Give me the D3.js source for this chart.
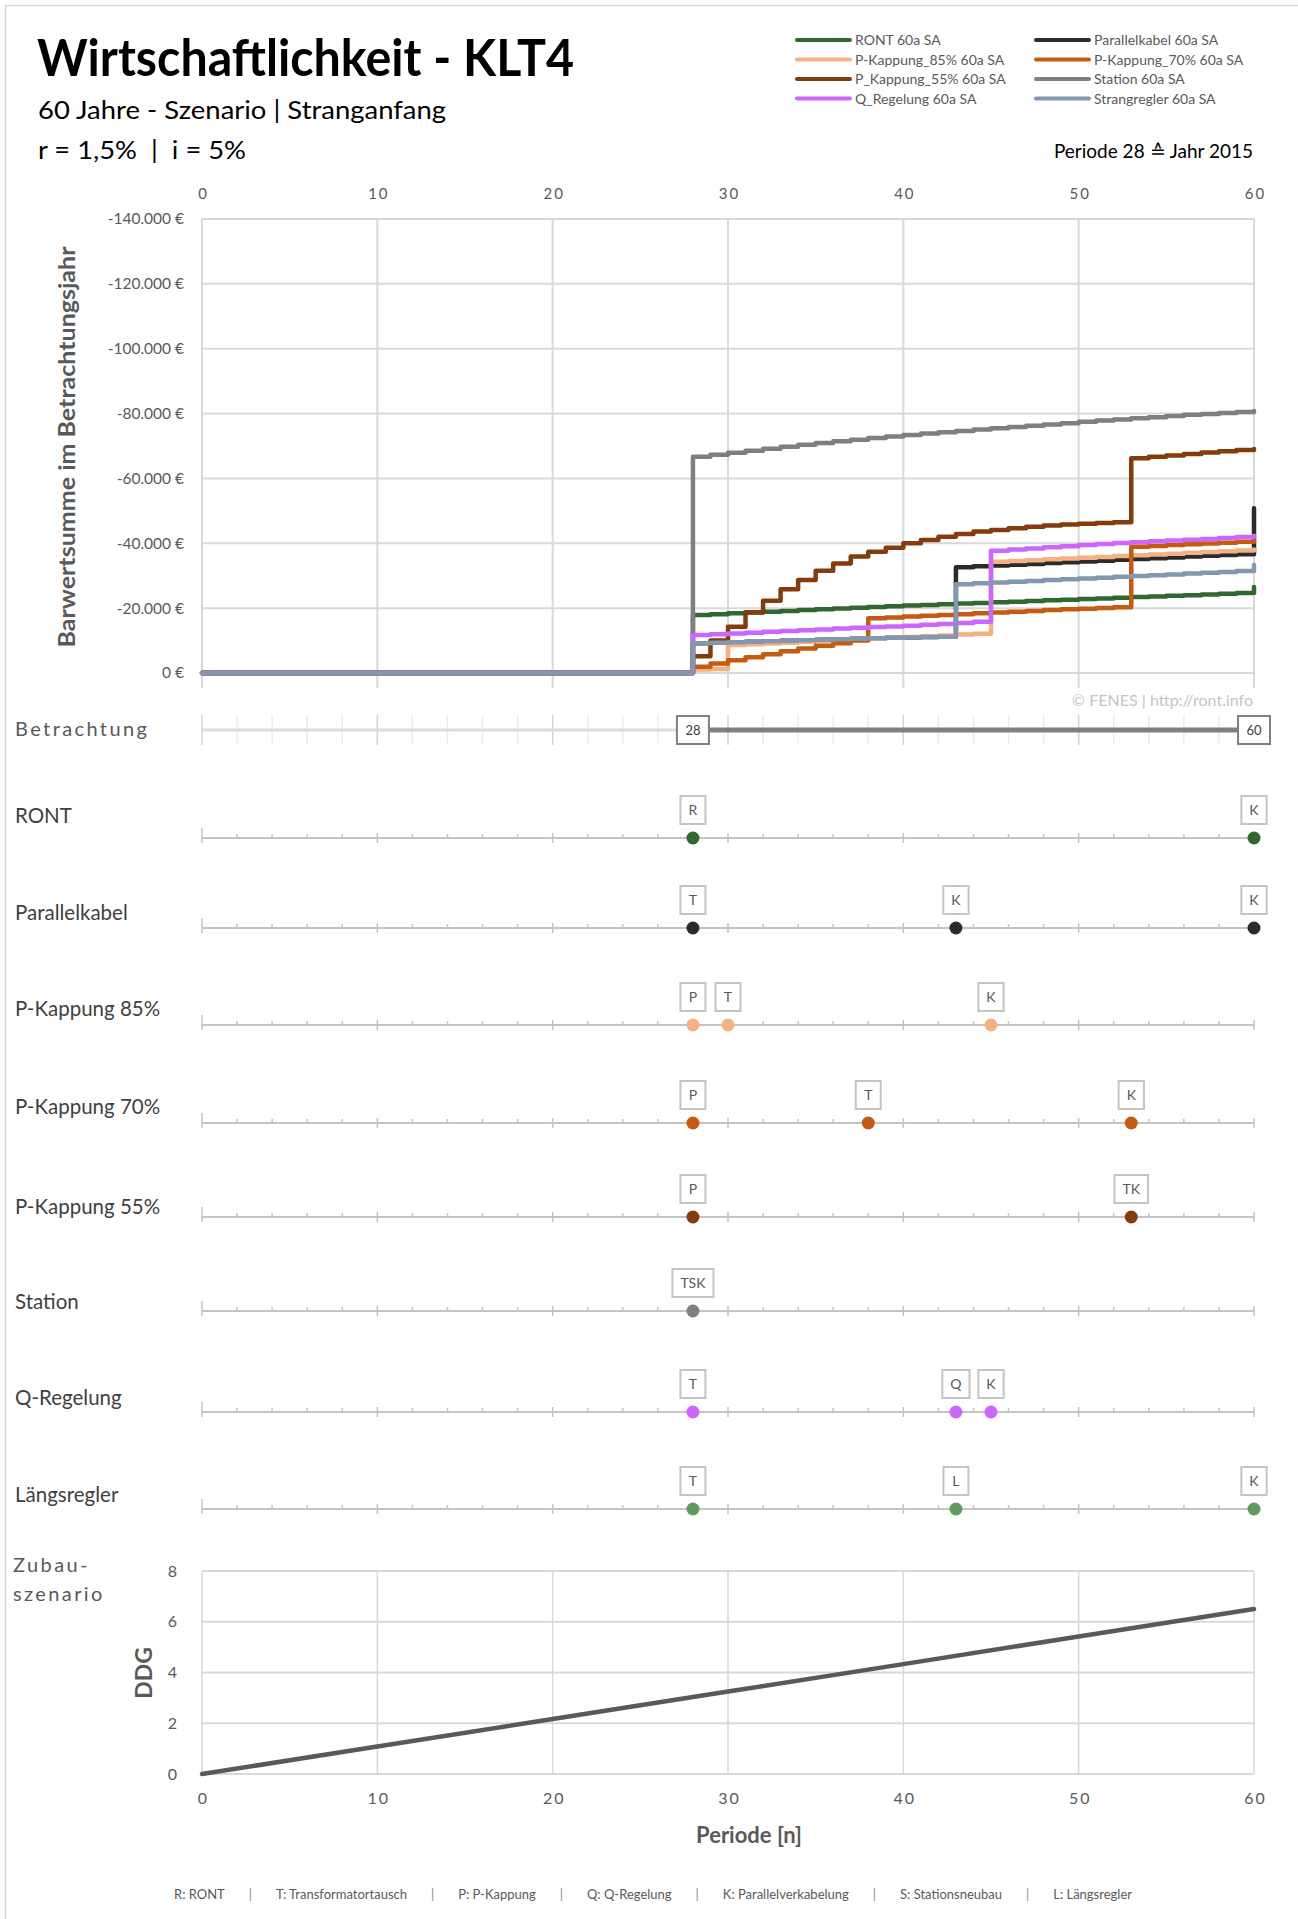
<!DOCTYPE html>
<html><head><meta charset="utf-8">
<script src="https://cdn.jsdelivr.net/npm/d3@7"></script>
<style>
body{margin:0;background:#fff;}
svg{display:block;font-family:Lato,"Open Sans",sans-serif;}
</style>
</head><body>
<svg id="c" width="1298" height="1919"></svg>
<script>
// ---------------- DATA ----------------
const periods = d3.range(0, 61);
const seriesNames = ["RONT 60a SA","Parallelkabel 60a SA","P-Kappung_85% 60a SA","P-Kappung_70% 60a SA","P_Kappung_55% 60a SA","Station 60a SA","Q_Regelung 60a SA","Strangregler 60a SA"];
const seriesColors = ["#31682f","#2b2b2b","#f4b183","#c55a11","#843c0c","#7f7f7f","#cc66ff","#8497b0"];

const ront = [0,0,0,0,0,0,0,0,0,0,0,0,0,0,0,0,0,0,0,0,0,0,0,0,0,0,0,0,
 -17900,-18150,-18400,-18650,-18900,-19150,-19400,-19650,-19900,-20100,-20350,-20550,-20800,-21000,-21200,-21400,-21600,-21800,-22000,-22200,-22400,-22600,-22800,-23000,-23200,-23400,-23600,-23800,-24000,-24200,-24450,-24700,-26500];
const parallelkabel = [0,0,0,0,0,0,0,0,0,0,0,0,0,0,0,0,0,0,0,0,0,0,0,0,0,0,0,0,
 -9200,-9350,-9500,-9650,-9800,-9950,-10100,-10250,-10400,-10550,-10700,-10850,-10950,-11100,-11200,
 -32600,-32900,-33150,-33400,-33650,-33900,-34150,-34400,-34650,-34900,-35150,-35400,-35650,-35900,-36150,-36400,-36650,-50800];
const pKappung85 = [0,0,0,0,0,0,0,0,0,0,0,0,0,0,0,0,0,0,0,0,0,0,0,0,0,0,0,0,
 -1100,-1200,-8600,-8850,-9100,-9350,-9600,-9850,-10100,-10350,-10600,-10850,-11100,-11350,-11600,-11850,-12100,
 -34300,-34550,-34800,-35050,-35300,-35550,-35800,-36050,-36300,-36550,-36800,-37050,-37300,-37550,-37800,-38100];
const pKappung70 = [0,0,0,0,0,0,0,0,0,0,0,0,0,0,0,0,0,0,0,0,0,0,0,0,0,0,0,0,
 -1900,-2900,-3900,-4850,-5800,-6700,-7550,-8400,-9200,-10000,
 -16900,-17150,-17400,-17650,-17900,-18150,-18400,-18650,-18900,-19150,-19400,-19650,-19850,-20050,-20300,
 -38900,-39200,-39450,-39700,-39950,-40200,-40450,-40800];
const pKappung55 = [0,0,0,0,0,0,0,0,0,0,0,0,0,0,0,0,0,0,0,0,0,0,0,0,0,0,0,0,
 -5200,-10000,-14300,-18700,-22300,-25800,-28700,-31500,-33800,-35900,-37400,-38600,-40000,-41000,-42000,-42900,-43600,-44100,-44600,-45100,-45500,-45800,-46000,-46250,-46500,
 -66200,-66650,-67100,-67550,-68000,-68400,-68800,-69100];
const station = [0,0,0,0,0,0,0,0,0,0,0,0,0,0,0,0,0,0,0,0,0,0,0,0,0,0,0,0,
 -66700,-67300,-67900,-68550,-69150,-69750,-70350,-70900,-71450,-71950,-72450,-72950,-73400,-73850,-74250,-74650,-75050,-75450,-75850,-76250,-76650,-77050,-77450,-77850,-78200,-78550,-78900,-79250,-79600,-79900,-80200,-80500,-80800];
const qRegelung = [0,0,0,0,0,0,0,0,0,0,0,0,0,0,0,0,0,0,0,0,0,0,0,0,0,0,0,0,
 -11700,-11950,-12200,-12450,-12700,-12950,-13200,-13450,-13700,-13950,-14150,-14350,-14600,-14850,-15100,-15400,-15800,
 -37700,-38050,-38400,-38750,-39100,-39450,-39750,-40050,-40350,-40600,-40850,-41100,-41350,-41650,-41950,-42300];
const strangregler = [0,0,0,0,0,0,0,0,0,0,0,0,0,0,0,0,0,0,0,0,0,0,0,0,0,0,0,0,
 -9200,-9350,-9500,-9650,-9800,-9950,-10100,-10250,-10400,-10550,-10700,-10850,-10950,-11100,-11200,
 -27400,-27650,-27900,-28150,-28400,-28650,-28900,-29150,-29400,-29650,-29900,-30150,-30400,-30650,-30900,-31150,-31450,-33300];
const seriesValues = [ront, parallelkabel, pKappung85, pKappung70, pKappung55, station, qRegelung, strangregler];

const xTicks = [0,10,20,30,40,50,60];
const yTicks = [0,-20000,-40000,-60000,-80000,-100000,-120000,-140000];

const betrachtungStart = 28, betrachtungEnd = 60;

const rowNames = ["RONT","Parallelkabel","P-Kappung 85%","P-Kappung 70%","P-Kappung 55%","Station","Q-Regelung","Längsregler"];
const rowColors = ["#31682f","#2b2b2b","#f4b183","#c55a11","#843c0c","#7f7f7f","#cc66ff","#5f9a5f"];
const rowEventPeriods = [[28,60],[28,43,60],[28,30,45],[28,38,53],[28,53],[28],[28,43,45],[28,43,60]];
const rowEventLabels  = [["R","K"],["T","K","K"],["P","T","K"],["P","T","K"],["P","TK"],["TSK"],["T","Q","K"],["T","L","K"]];

const ddgPeriods = [0,10,20,30,40,50,60];
const ddgValues  = [0,1.08,2.17,3.25,4.33,5.42,6.5];
const ddgTicks = [0,2,4,6,8];

const footerItems = ["R: RONT","T: Transformatortausch","P: P-Kappung","Q: Q-Regelung","K: Parallelverkabelung","S: Stationsneubau","L: Längsregler"];

// ---------------- LAYOUT ----------------
const W = 1298, H = 1919;
const X0 = 202, X1 = 1254;
const mainTop = 219, mainBottom = 673;
const rowAxisY = [838, 928, 1025, 1123, 1217, 1311, 1412, 1509];
const rowLabelY = [823, 920, 1016, 1114, 1214, 1309, 1405, 1502];
const betrY = 730;
const ddgTop = 1571, ddgBottom = 1774;
const grid = "#d9d9d9", txt = "#595959";

const svg = d3.select("#c");
svg.append("rect").attr("width", W).attr("height", H).attr("fill", "#fff");
svg.append("rect").attr("x", 5.5).attr("y", 5.5).attr("width", W + 20).attr("height", H + 20)
  .attr("fill", "none").attr("stroke", "#d9d9d9").attr("stroke-width", 1.5);

// ---------------- HEADER ----------------
svg.append("text").attr("x", 37).attr("y", 76).attr("font-size", 51).attr("font-weight", 700)
  .attr("fill", "#000").attr("textLength", 537).attr("lengthAdjust", "spacingAndGlyphs")
  .text("Wirtschaftlichkeit - KLT4");
svg.append("text").attr("x", 38).attr("y", 119).attr("font-size", 25).attr("fill", "#000")
  .attr("textLength", 408).attr("lengthAdjust", "spacingAndGlyphs")
  .text("60 Jahre - Szenario | Stranganfang");
svg.append("text").attr("x", 38).attr("y", 159).attr("font-size", 25).attr("fill", "#000")
  .style("white-space", "pre").attr("textLength", 208).attr("lengthAdjust", "spacingAndGlyphs")
  .text("r = 1,5%  |  i = 5%");
svg.append("text").attr("x", 1253).attr("y", 158).attr("font-size", 19).attr("fill", "#000")
  .attr("text-anchor", "end").text("Periode 28 \u2259 Jahr 2015");

// legend
const leg = svg.append("g");
seriesNames.forEach((n, i) => {
  const col = i % 2, row = Math.floor(i / 2);
  const lx = col === 0 ? 797 : 1036;
  const ly = [40, 59.5, 79, 98.5][row];
  leg.append("line").attr("x1", lx).attr("x2", lx + 53).attr("y1", ly).attr("y2", ly)
    .attr("stroke", seriesColors[i]).attr("stroke-width", 4).attr("stroke-linecap", "round");
  leg.append("text").attr("x", lx + 58).attr("y", ly + 5).attr("font-size", 14).attr("fill", txt).text(n);
});

// ---------------- MAIN CHART ----------------
const x = d3.scaleLinear().domain([0, 60]).range([X0, X1]);
const y = d3.scaleLinear().domain([0, -140000]).range([mainBottom, mainTop]);
const loc = d3.formatLocale({decimal: ",", thousands: ".", grouping: [3], currency: ["", " €"], minus: "-"});
const fmt = loc.format(",.0f");

const gm = svg.append("g");
gm.selectAll(".hg").data(yTicks).join("line")
  .attr("x1", X0).attr("x2", X1).attr("y1", d => y(d)).attr("y2", d => y(d))
  .attr("stroke", grid).attr("stroke-width", 2);
gm.selectAll(".vg").data(xTicks).join("line")
  .attr("x1", d => x(d)).attr("x2", d => x(d)).attr("y1", mainTop).attr("y2", mainBottom + 15)
  .attr("stroke", grid).attr("stroke-width", 2);

const topAxis = gm.append("g").attr("transform", `translate(0,199)`)
  .call(d3.axisTop(x).tickValues(xTicks).tickSize(0).tickPadding(0).tickFormat(d3.format("d")));
topAxis.select(".domain").remove();
topAxis.selectAll("text").attr("font-size", 15).attr("fill", txt).attr("font-family", "Lato, sans-serif")
  .attr("letter-spacing", 2).attr("dx", 1);

const leftAxis = gm.append("g").attr("transform", `translate(184,0)`)
  .call(d3.axisLeft(y).tickValues(yTicks).tickSize(0).tickPadding(0).tickFormat(d => fmt(d) + " €"));
leftAxis.select(".domain").remove();
leftAxis.selectAll("text").attr("font-size", 15.5).attr("fill", txt).attr("font-family", "Lato, sans-serif");

gm.append("text").attr("transform", "translate(75,447) rotate(-90)").attr("text-anchor", "middle")
  .attr("font-size", 22).attr("font-weight", 700).attr("fill", txt)
  .attr("textLength", 401).attr("lengthAdjust", "spacingAndGlyphs")
  .text("Barwertsumme im Betrachtungsjahr");

const line = d3.line().x((d, i) => x(periods[i])).y(d => y(d)).curve(d3.curveStepAfter);
seriesValues.forEach((vals, i) => {
  gm.append("path").attr("d", line(vals)).attr("fill", "none")
    .attr("stroke", seriesColors[i]).attr("stroke-width", 4.5)
    .attr("stroke-linejoin", "round").attr("stroke-linecap", "round");
});

gm.append("text").attr("x", 1253).attr("y", 706).attr("text-anchor", "end")
  .attr("font-size", 16).attr("fill", "#c4c4c4").text("© FENES | http://ront.info");

// ---------------- BETRACHTUNG ROW ----------------
const gb = svg.append("g");
gb.append("text").attr("x", 15).attr("y", 736).attr("font-size", 20).attr("letter-spacing", 2.4)
  .attr("fill", txt).text("Betrachtung");
const minorP = d3.range(0, 61, 2);
gb.selectAll(".bg").data(minorP).join("line")
  .attr("x1", d => x(d)).attr("x2", d => x(d)).attr("y1", betrY - 15).attr("y2", betrY + 15)
  .attr("stroke", d => d % 10 === 0 ? "#d4d4d4" : "#ececec").attr("stroke-width", 1.5);
gb.append("line").attr("x1", x(0)).attr("x2", x(betrachtungStart)).attr("y1", betrY).attr("y2", betrY)
  .attr("stroke", "#dcdcdc").attr("stroke-width", 3);
gb.append("line").attr("x1", x(betrachtungStart)).attr("x2", x(betrachtungEnd)).attr("y1", betrY).attr("y2", betrY)
  .attr("stroke", "#808080").attr("stroke-width", 5);
[betrachtungStart, betrachtungEnd].forEach(p => {
  gb.append("rect").attr("x", x(p) - 16).attr("y", betrY - 14).attr("width", 32).attr("height", 28)
    .attr("fill", "#fff").attr("stroke", "#808080").attr("stroke-width", 2);
  gb.append("text").attr("x", x(p)).attr("y", betrY + 5).attr("text-anchor", "middle")
    .attr("font-size", 13).attr("fill", "#404040").text(p);
});

// ---------------- EVENT ROWS ----------------
rowNames.forEach((name, r) => {
  const g = svg.append("g");
  const ay = rowAxisY[r];
  g.append("text").attr("x", 15).attr("y", rowLabelY[r]).attr("font-size", 20.5).attr("fill", "#3f3f3f").text(name);
  g.append("line").attr("x1", x(0)).attr("x2", x(60)).attr("y1", ay).attr("y2", ay)
    .attr("stroke", "#c4c4c4").attr("stroke-width", 2);
  g.selectAll(".tk").data(minorP).join("line")
    .attr("x1", d => x(d)).attr("x2", d => x(d))
    .attr("y1", d => d === 0 ? ay - 10 : (d % 10 === 0 ? ay - 5 : ay - 4))
    .attr("y2", d => d % 10 === 0 ? ay + 5 : ay)
    .attr("stroke", "#c4c4c4").attr("stroke-width", 1.5);
  rowEventPeriods[r].forEach((p, k) => {
    const lab = rowEventLabels[r][k];
    const t = g.append("text").attr("x", x(p)).attr("y", ay - 23).attr("text-anchor", "middle")
      .attr("font-size", 14).attr("fill", txt).text(lab);
    const tw = t.node().getComputedTextLength();
    const bw = Math.max(25, tw + 16);
    g.insert("rect", "text").attr("x", x(p) - bw / 2).attr("y", ay - 42).attr("width", bw).attr("height", 28)
      .attr("fill", "#fff").attr("stroke", "#c4c4c4").attr("stroke-width", 2);
    g.append("circle").attr("cx", x(p)).attr("cy", ay).attr("r", 6.5).attr("fill", rowColors[r]);
  });
});

// ---------------- DDG CHART ----------------
const y2 = d3.scaleLinear().domain([0, 8]).range([ddgBottom, ddgTop]);
const gd = svg.append("g");
gd.append("text").attr("x", 13).attr("y", 1572).attr("font-size", 20).attr("letter-spacing", 2.4)
  .attr("fill", txt).text("Zubau-");
gd.append("text").attr("x", 13).attr("y", 1601).attr("font-size", 20).attr("letter-spacing", 2.4)
  .attr("fill", txt).text("szenario");
gd.selectAll(".h2").data(ddgTicks).join("line")
  .attr("x1", X0).attr("x2", X1).attr("y1", d => y2(d)).attr("y2", d => y2(d))
  .attr("stroke", grid).attr("stroke-width", 2);
gd.selectAll(".v2").data(xTicks).join("line")
  .attr("x1", d => x(d)).attr("x2", d => x(d)).attr("y1", ddgTop).attr("y2", ddgBottom)
  .attr("stroke", grid).attr("stroke-width", 1.5);
const ax2 = gd.append("g").attr("transform", `translate(0,${ddgBottom})`)
  .call(d3.axisBottom(x).tickValues(xTicks).tickSize(0).tickPadding(19).tickFormat(d3.format("d")));
ax2.select(".domain").remove();
ax2.selectAll("text").attr("font-size", 16).attr("fill", txt).attr("font-family", "Lato, sans-serif")
  .attr("letter-spacing", 2).attr("dx", 1);
const ay2 = gd.append("g").attr("transform", `translate(177,0)`)
  .call(d3.axisLeft(y2).tickValues(ddgTicks).tickSize(0).tickPadding(0).tickFormat(d3.format("d")));
ay2.select(".domain").remove();
ay2.selectAll("text").attr("font-size", 16).attr("fill", txt).attr("font-family", "Lato, sans-serif");
gd.append("path").attr("d", d3.line().x((d, i) => x(ddgPeriods[i])).y(d => y2(d))(ddgValues))
  .attr("fill", "none").attr("stroke", "#595959").attr("stroke-width", 4.5).attr("stroke-linecap", "round");
gd.append("text").attr("x", 749).attr("y", 1843).attr("text-anchor", "middle").attr("font-size", 22)
  .attr("font-weight", 700).attr("fill", txt).text("Periode [n]");
gd.append("text").attr("transform", "translate(152,1673) rotate(-90)").attr("text-anchor", "middle")
  .attr("font-size", 23).attr("font-weight", 700).attr("fill", txt).text("DDG");

// ---------------- FOOTER ----------------
const gf = svg.append("g");
const fx0 = 174, fx1 = 1132, fy = 1899;
const itemNodes = footerItems.map(t => gf.append("text").attr("y", fy).attr("font-size", 13).attr("fill", txt).text(t));
const barNodes = footerItems.slice(1).map(() => gf.append("text").attr("y", fy).attr("font-size", 13).attr("fill", "#8c8c8c").text("|"));
const itemW = itemNodes.map(n => n.node().getComputedTextLength());
const barW = barNodes.map(n => n.node().getComputedTextLength());
const gap = ((fx1 - fx0) - d3.sum(itemW) - d3.sum(barW)) / (2 * barNodes.length);
let cx = fx0;
itemNodes.forEach((n, i) => {
  n.attr("x", cx); cx += itemW[i];
  if (i < barNodes.length) { cx += gap; barNodes[i].attr("x", cx); cx += barW[i] + gap; }
});
</script>
</body></html>
